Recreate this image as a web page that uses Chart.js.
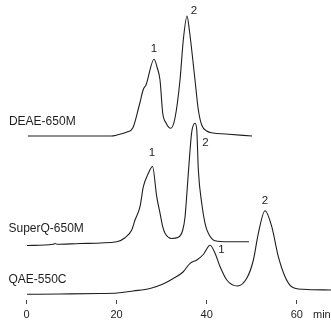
<!DOCTYPE html>
<html>
<head>
<meta charset="utf-8">
<script src="https://cdn.jsdelivr.net/npm/chart.js@4"></script>
<style>
  html, body { margin: 0; padding: 0; background: #fff; }
  #wrap { width: 331px; height: 325px; }
</style>
</head>
<body>
<div id="wrap"><canvas id="chrom"></canvas></div>
<script>
/* elution time (min) and detector signal */
const deaeTime   = [0.3, 18.8, 20.1, 22.3, 23.65, 25.05, 25.94, 26.53, 28.31, 29.04, 29.64, 30.24, 30.98, 32.02, 32.97, 34.08, 34.81, 35.64, 36.15, 37.41, 38.15, 38.9, 40.01, 41.41, 44.18, 50.07];
const deaeSignal = [164, 164, 165, 168, 172.5, 195, 210.7, 215, 240.7, 232, 220, 187, 177, 171.7, 182, 220, 260, 284, 270, 220, 190, 175, 169, 167, 166, 164];

const superqTime   = [0.11, 5.88, 6.33, 6.77, 11.9, 20.03, 21.87, 23.36, 24.09, 25.2, 25.94, 27.05, 27.98, 28.91, 29.65, 30.24, 30.76, 32.2, 33.71, 34.69, 35.2, 35.71, 36.31, 36.69, 37.42, 37.8, 38.15, 38.9, 39.63, 40.37, 41.85, 44.8, 49.4];
const superqSignal = [54.5, 55.7, 56.5, 55.7, 56.5, 58.3, 62.3, 70, 80, 93.3, 113.3, 126.7, 133.5, 103.3, 86.7, 73.3, 66.7, 61.5, 62.7, 70, 83.3, 113.3, 150, 168.3, 176.7, 170, 130, 96.7, 76.7, 66.7, 59.3, 58.3, 58.3];

const qaeTime   = [0.11, 7.44, 16.3, 20.1, 23.65, 27.42, 30.31, 32.4, 34.75, 36.31, 37.8, 39.26, 40.75, 41.86, 42.97, 44.46, 46.81, 48.9, 50.37, 51.47, 52.96, 54.45, 55.91, 57.4, 58.88, 61.46, 67.6];
const qaeSignal = [5.7, 6, 6.5, 7, 9, 11.5, 16, 21, 28, 36.7, 40, 45.5, 54.7, 46.7, 33.3, 20, 14, 21.7, 40, 66.7, 89.3, 73.3, 43.3, 23.3, 13.3, 10.7, 10];

const xTicks = [0, 20, 40, 60];

/* column names, left of each trace */
const traceNames  = ["DEAE-650M", "SuperQ-650M", "QAE-550C"];
const traceNameAt = [[-3.9, 178.3], [-4.0, 71.7], [-4.0, 20]];

/* peak numbers */
const peakText = ["1", "2", "1", "2", "1", "2"];
const peakAt   = [[28.31, 251], [37.2, 289], [27.87, 147], [39.75, 157], [43.3, 50], [52.96, 99]];

const toPoints = (t, s) => t.map((v, i) => ({ x: v, y: s[i] }));

const INK = "#1e1e1e";
const FONT = "'Liberation Sans', Arial, sans-serif";

const labelsPlugin = {
  id: "chromLabels",
  afterDraw(chart) {
    const ctx = chart.ctx;
    const xs = chart.scales.x, ys = chart.scales.y;
    ctx.save();
    ctx.fillStyle = INK;
    ctx.textBaseline = "middle";

    ctx.font = "12px " + FONT;
    ctx.textAlign = "left";
    traceNames.forEach((n, i) => {
      ctx.fillText(n, xs.getPixelForValue(traceNameAt[i][0]), ys.getPixelForValue(traceNameAt[i][1]));
    });

    ctx.font = "11.5px " + FONT;
    ctx.textAlign = "center";
    peakText.forEach((p, i) => {
      ctx.fillText(p, xs.getPixelForValue(peakAt[i][0]), ys.getPixelForValue(peakAt[i][1]));
    });

    // unit after the last tick
    ctx.font = "11px " + FONT;
    ctx.textAlign = "left";
    ctx.fillText("min", xs.getPixelForValue(63.6), chart.chartArea.bottom + 15);
    ctx.restore();
  }
};

const lineStyle = {
  borderColor: INK,
  borderWidth: 1.1,
  pointRadius: 0,
  fill: false,
  cubicInterpolationMode: "monotone"
};

new Chart(document.getElementById("chrom"), {
  type: "line",
  data: {
    datasets: [
      { label: "DEAE-650M", data: toPoints(deaeTime, deaeSignal), ...lineStyle },
      { label: "SuperQ-650M", data: toPoints(superqTime, superqSignal), ...lineStyle },
      { label: "QAE-550C", data: toPoints(qaeTime, qaeSignal), ...lineStyle }
    ]
  },
  options: {
    responsive: true,
    maintainAspectRatio: false,
    animation: false,
    layout: { padding: { left: 26.5, right: 0, top: 0, bottom: 0 } },
    plugins: { legend: { display: false }, tooltip: { enabled: false } },
    scales: {
      x: {
        type: "linear",
        min: 0,
        max: 67.6,
        afterBuildTicks: s => { s.ticks = xTicks.map(v => ({ value: v })); },
        afterFit: s => { s.height = 25; },
        border: { display: false },
        grid: { drawOnChartArea: false, drawTicks: true, tickLength: 4, color: "#444", lineWidth: 1 },
        ticks: { color: INK, font: { size: 11, family: FONT }, padding: 4, maxRotation: 0 }
      },
      y: { display: false, min: 0, max: 300 }
    }
  },
  plugins: [labelsPlugin]
});
</script>
</body>
</html>
